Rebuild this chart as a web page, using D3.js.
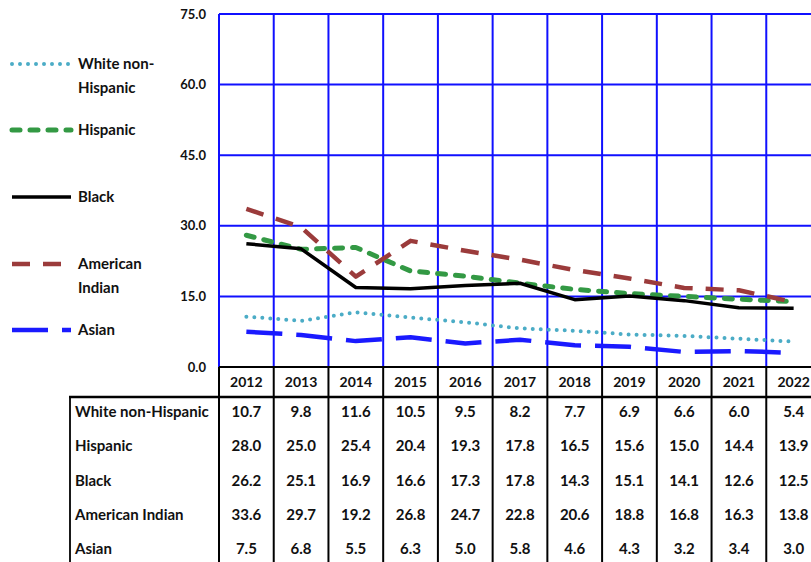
<!DOCTYPE html>
<html>
<head>
<meta charset="utf-8">
<script src="https://cdn.jsdelivr.net/npm/d3@7"></script>
<style>
  body { margin: 0; background: #fff; }
  svg { display: block; font-family: Lato, "Open Sans", sans-serif; }
</style>
</head>
<body>
<div id="chart"></div>
<script>
// chart values
const years = ["2012", "2013", "2014", "2015", "2016", "2017", "2018", "2019", "2020", "2021", "2022"];
const yTicks = [0, 15, 30, 45, 60, 75];

const white    = [10.7, 9.8, 11.6, 10.5, 9.5, 8.2, 7.7, 6.9, 6.6, 6.0, 5.4];
const hispanic = [28.0, 25.0, 25.4, 20.4, 19.3, 17.8, 16.5, 15.6, 15.0, 14.4, 13.9];
const black    = [26.2, 25.1, 16.9, 16.6, 17.3, 17.8, 14.3, 15.1, 14.1, 12.6, 12.5];
const amIndian = [33.6, 29.7, 19.2, 26.8, 24.7, 22.8, 20.6, 18.8, 16.8, 16.3, 13.8];
const asian    = [7.5, 6.8, 5.5, 6.3, 5.0, 5.8, 4.6, 4.3, 3.2, 3.4, 3.0];

const seriesNames = ["White non-Hispanic", "Hispanic", "Black", "American Indian", "Asian"];
const legendLabels = [["White non-", "Hispanic"], ["Hispanic"], ["Black"], ["American", "Indian"], ["Asian"]];

// line styles for each series
const styles = [
  { color: "#4bacc6", width: 4,   dash: "0,8",   cap: "round" },
  { color: "#339944", width: 5,   dash: "8,10",  cap: "round" },
  { color: "#000000", width: 3.5, dash: null,    cap: "butt" },
  { color: "#9b3b3b", width: 4.5, dash: "18,13", cap: "butt" },
  { color: "#1a1aff", width: 4.5, dash: "36,14", cap: "butt" }
];

const series = seriesNames.map((name, i) => ({
  name,
  legend: legendLabels[i],
  values: [white, hispanic, black, amIndian, asian][i],
  style: styles[i]
}));

const W = 811, H = 562;
const plot = { left: 219, right: 821, top: 14, bottom: 367 };

const svg = d3.select("#chart").append("svg")
  .attr("width", W)
  .attr("height", H);

const x = d3.scaleBand()
  .domain(years)
  .range([plot.left, plot.right])
  .padding(0);

const y = d3.scaleLinear()
  .domain([0, 75])
  .range([plot.bottom, plot.top]);

const cx = d => x(d) + x.bandwidth() / 2;
const gridBlue = "#1010ff";
const txt = "#111";

// horizontal gridlines
svg.append("g").selectAll("line")
  .data(yTicks.filter(t => t > 0))
  .enter().append("line")
  .attr("x1", plot.left).attr("x2", plot.right)
  .attr("y1", d => y(d)).attr("y2", d => y(d))
  .style("stroke", gridBlue)
  .style("stroke-width", 2);

// vertical gridlines at band edges
svg.append("g").selectAll("line")
  .data(years.concat(["end"]))
  .enter().append("line")
  .attr("x1", (d, i) => i < years.length ? x(d) : plot.right)
  .attr("x2", (d, i) => i < years.length ? x(d) : plot.right)
  .attr("y1", plot.top).attr("y2", plot.bottom)
  .style("stroke", gridBlue)
  .style("stroke-width", 2);

// y axis labels
svg.append("g").selectAll("text")
  .data(yTicks)
  .enter().append("text")
  .attr("x", 206)
  .attr("y", d => y(d))
  .attr("dy", "0.35em")
  .attr("text-anchor", "end")
  .style("font-size", "13px")
  .style("font-weight", "bold")
  .style("fill", txt)
  .text(d => d.toFixed(1));

// the series lines
const line = d3.line()
  .x((d, i) => cx(years[i]))
  .y(d => y(d));

svg.append("g").selectAll("path")
  .data(series)
  .enter().append("path")
  .attr("d", d => line(d.values))
  .style("fill", "none")
  .style("stroke", d => d.style.color)
  .style("stroke-width", d => d.style.width)
  .style("stroke-dasharray", d => d.style.dash)
  .style("stroke-linecap", d => d.style.cap)
  .style("stroke-linejoin", "round");

// legend on the left
const legendY = [64, 130, 197, 264, 330];
const legend = svg.append("g").selectAll("g")
  .data(series)
  .enter().append("g")
  .attr("transform", (d, i) => `translate(0,${legendY[i]})`);

legend.append("line")
  .attr("x1", 12)
  .attr("x2", 71)
  .attr("y1", 0).attr("y2", 0)
  .style("stroke", d => d.style.color)
  .style("stroke-width", d => d.style.width)
  .style("stroke-dasharray", d => d.style.dash)
  .style("stroke-linecap", d => d.style.cap);

legend.each(function(d) {
  d3.select(this).selectAll("text")
    .data(d.legend)
    .enter().append("text")
    .attr("x", 78)
    .attr("y", (t, j) => j * 24)
    .attr("dy", "0.35em")
    .style("font-size", "15px")
    .style("font-weight", "bold")
    .style("fill", txt)
    .text(t => t);
});

// data table below the chart
const headTop = 367, headBottom = 397, rowH = 34.2, firstRow = 412;
const tableLeft = 70;
const tbl = svg.append("g");

tbl.append("line")
  .attr("x1", plot.left).attr("x2", plot.right)
  .attr("y1", headTop).attr("y2", headTop)
  .style("stroke", "#000").style("stroke-width", 2);
tbl.append("line")
  .attr("x1", tableLeft - 1).attr("x2", plot.right)
  .attr("y1", headBottom).attr("y2", headBottom)
  .style("stroke", "#000").style("stroke-width", 2.5);

tbl.selectAll(".vline")
  .data(years.concat(["end"]))
  .enter().append("line")
  .attr("class", "vline")
  .attr("x1", (d, i) => i < years.length ? x(d) : plot.right)
  .attr("x2", (d, i) => i < years.length ? x(d) : plot.right)
  .attr("y1", headTop).attr("y2", H)
  .style("stroke", "#000").style("stroke-width", 2);

tbl.append("line")
  .attr("x1", tableLeft).attr("x2", tableLeft)
  .attr("y1", headBottom).attr("y2", H)
  .style("stroke", "#000").style("stroke-width", 1.8);

tbl.selectAll(".year")
  .data(years)
  .enter().append("text")
  .attr("class", "year")
  .attr("x", d => cx(d))
  .attr("y", (headTop + headBottom) / 2)
  .attr("dy", "0.35em")
  .attr("text-anchor", "middle")
  .style("font-size", "14px")
  .style("font-weight", "bold")
  .style("fill", txt)
  .text(d => d);

// rows
const rows = tbl.selectAll(".row")
  .data(series)
  .enter().append("g")
  .attr("class", "row")
  .attr("transform", (d, i) => `translate(0,${firstRow + i * rowH})`);

rows.append("text")
  .attr("x", 75)
  .attr("dy", "0.35em")
  .style("font-size", "15px")
  .style("font-weight", "bold")
  .style("fill", txt)
  .text(d => d.name);

rows.each(function(d) {
  d3.select(this).selectAll(".val")
    .data(d.values)
    .enter().append("text")
    .attr("class", "val")
    .attr("x", (v, i) => cx(years[i]))
    .attr("dy", "0.35em")
    .attr("text-anchor", "middle")
    .style("font-size", "15px")
    .style("font-weight", "bold")
    .style("fill", txt)
    .text(v => v.toFixed(1));
});
</script>
</body>
</html>
